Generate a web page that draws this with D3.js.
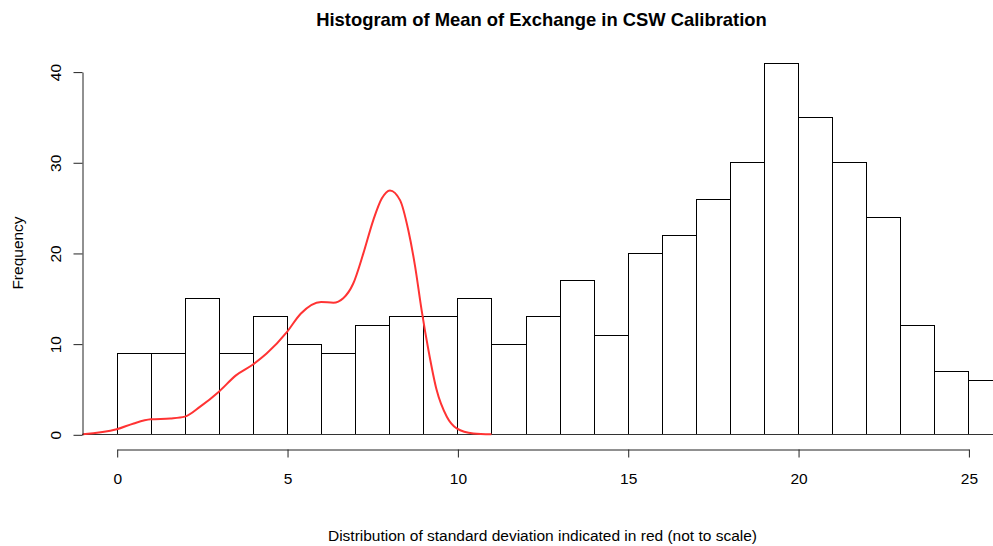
<!DOCTYPE html>
<html>
<head>
<meta charset="utf-8">
<script src="https://cdn.jsdelivr.net/npm/d3@7"></script>
<style>
  html, body { margin: 0; padding: 0; background: #fff; }
  svg { display: block; font-family: "Liberation Sans", Arial, sans-serif; }
</style>
</head>
<body>
<svg id="chart" width="993" height="546"></svg>
<script>
// Histogram counts: one bin per unit, starting at 0
const binStarts = d3.range(0, 26);
const counts = [9, 9, 15, 9, 13, 10, 9, 12, 13, 13, 15, 10, 13, 17, 11, 20, 22, 26, 30, 41, 35, 30, 24, 12, 7, 6];

// Density of the standard deviation, drawn in red (scaled for display)
const densX = [-1, 0, 0.5, 1, 1.57, 2, 2.45, 3, 3.5, 4, 4.4, 5, 5.4, 6, 6.36, 6.65, 6.94, 7.24, 7.53, 7.78, 8.02, 8.32, 8.56, 8.76, 8.95, 9.15, 9.39, 9.69, 9.98, 10.47, 11];
const densY = [0, 0.55, 1.2, 1.65, 1.75, 1.95, 3.05, 4.7, 6.5, 7.7, 8.9, 11.3, 13.3, 14.6, 14.5, 15.0, 16.6, 19.95, 23.6, 26.0, 26.9, 25.8, 22.5, 18.5, 13.7, 9.3, 4.9, 1.94, 0.66, 0.1, 0];

const xTicks = [0, 5, 10, 15, 20, 25];
const yTicks = [0, 10, 20, 30, 40];

const titleText = "Histogram of Mean of Exchange in CSW Calibration";
const xLabel = "Distribution of standard deviation indicated in red (not to scale)";
const yLabel = "Frequency";

const svg = d3.select("#chart");
const W = 993, H = 546;
const labelSize = 15.5, titleSize = 18.4;

const x = d3.scaleLinear().domain([0, 25]).range([116.7, 968.4]);
const y = d3.scaleLinear().domain([0, 40]).range([434.3, 71.6]);
const plotLeft = x(-1.02);
const snap = v => Math.round(v) + 0.5;

// Plot area clip (bars run past the right edge)
svg.append("defs").append("clipPath").attr("id", "plotClip")
  .append("rect").attr("x", plotLeft).attr("y", 40).attr("width", W - plotLeft).attr("height", 420);

const plot = svg.append("g").attr("clip-path", "url(#plotClip)");

// Bars
plot.selectAll("rect.bar")
  .data(binStarts.map((s, i) => ({ s, c: counts[i] })))
  .join("rect")
  .attr("class", "bar")
  .attr("x", d => snap(x(d.s)))
  .attr("y", d => snap(y(d.c)))
  .attr("width", d => snap(x(d.s + 1)) - snap(x(d.s)))
  .attr("height", d => snap(y(0)) - snap(y(d.c)))
  .attr("fill", "none")
  .attr("stroke", "#000")
  .attr("stroke-width", 1);

// Zero line
plot.append("line")
  .attr("x1", plotLeft).attr("x2", W)
  .attr("y1", snap(y(0))).attr("y2", snap(y(0)))
  .attr("stroke", "#333").attr("stroke-width", 1);

// Density curve
const line = d3.line()
  .x((d, i) => x(densX[i]))
  .y((d, i) => y(d))
  .curve(d3.curveMonotoneX);
plot.append("path")
  .datum(densY)
  .attr("d", line)
  .attr("fill", "none")
  .attr("stroke", "#ff3333")
  .attr("stroke-width", 2);

// X axis
const xAxis = d3.axisBottom(x).tickValues(xTicks).tickSize(8).tickPadding(15).tickSizeOuter(0);
const gx = svg.append("g").attr("transform", `translate(0.5,${snap(449)})`).call(xAxis);
gx.select(".domain").attr("stroke", "#222");
gx.selectAll(".tick line").attr("stroke", "#222");
gx.selectAll(".tick text").attr("font-size", labelSize).attr("fill", "#000")
  .attr("font-family", "Liberation Sans, Arial, sans-serif");

// Y axis
const yAxis = d3.axisLeft(y).tickValues(yTicks).tickSize(9).tickSizeOuter(0);
const gy = svg.append("g").attr("transform", `translate(${snap(82)},0.5)`).call(yAxis);
gy.select(".domain").attr("stroke", "#222");
gy.selectAll(".tick line").attr("stroke", "#222");
gy.selectAll(".tick text")
  .attr("font-size", labelSize).attr("fill", "#000")
  .attr("font-family", "Liberation Sans, Arial, sans-serif")
  .attr("text-anchor", "middle")
  .attr("dy", null)
  .attr("x", null)
  .attr("transform", "translate(-22,0) rotate(-90)");

// Titles
svg.append("text")
  .attr("x", 541.5).attr("y", 26)
  .attr("text-anchor", "middle")
  .attr("font-weight", "bold")
  .attr("font-size", titleSize)
  .text(titleText);

svg.append("text")
  .attr("x", 542.5).attr("y", 541)
  .attr("text-anchor", "middle")
  .attr("font-size", labelSize)
  .text(xLabel);

svg.append("text")
  .attr("transform", `translate(23,253) rotate(-90)`)
  .attr("text-anchor", "middle")
  .attr("font-size", labelSize)
  .text(yLabel);
</script>
</body>
</html>
